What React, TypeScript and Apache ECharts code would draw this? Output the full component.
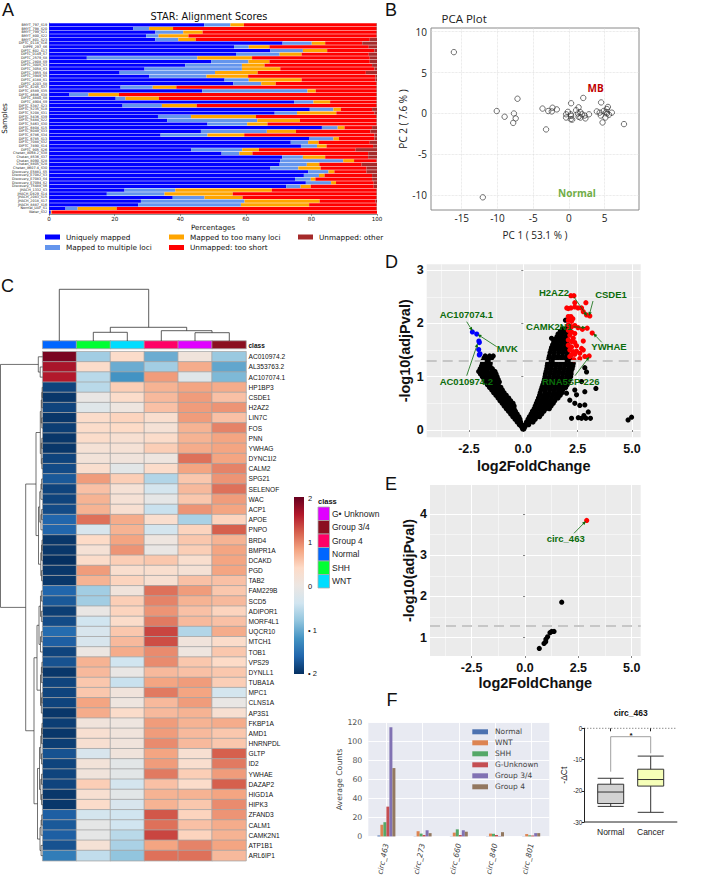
import React, { useEffect, useRef } from "react";
import * as echarts from "echarts";

const SANS = "'Liberation Sans', Arial, sans-serif";
const DEJA = "'DejaVu Sans', sans-serif";
const OPEN = "'Open Sans', sans-serif";

/* ---------- A: STAR alignment ---------- */
const sampleNames = ["BMYT_797_S19","BMYT_798_S20","BMYT_799_S21","BMYT_800_S22","BMYT_801_S23","DIPTC_0118_S16","DIPPE_297_S6","DIPTC_602_S17","DIPTC_0149_S7","DIPTC_2579_S8","DIPTC_2808_S9","DIPTC_3005_S3","DIPTC_3058_S3","DIPTC_3955_S4","DIPTC_3949_S5","DIPTC_4188_S1","DIPTC_4203_S8","DIPTC_4245_S37","DIPTC_4589_S35","DIPTC_4686_S38","DIPTC_4840_S8","DIPTC_4904_S9","DIPTC_5387_S23","DIPTC_5235_S18","DIPTC_5208_S31","DIPTC_5436_S39","DIPTC_5484_S22","DIPTC_5463_S30","DIPTC_6804_S15","DIPTC_6049_S33","DIPTC_6786_S34","DIPTC_6785_S13","DIPTC_7088_S32","DIPTC_7490_S14","DIPTC_905_S26","Chetan_8068-2_S38","Chetan_8536_S37","Chetan_8090_S28","Chetan_8805_S28","Chetan_8607-4_S30","Discovery_E5881_S5","Discovery_E7082_S3","Discovery_E7083_S4","Discovery_E7094_S2","Discovery_T5488_S6","JHACH_1332_S3","JHACH_D829_S14","JHACH_2083_S15","JHACH_2018_S17","JHACH_8887_S16","Normal_UAF_S1","Water_S32"];
const uniqueEnd = [47.3,25.7,32.4,29.6,32.4,71.2,56.4,67.5,57,11.5,49.4,41.5,29.1,21.5,30.5,53.5,56.2,21.8,46.7,6.2,20.3,74.7,22.4,79.5,68.8,33.2,36,48.3,83.2,46.3,34,79.4,73.7,76.8,43.3,52.6,71.1,70.5,70.3,67.5,79,77.7,75,78.3,72.3,23,17.6,37.7,28,27.2,5,0.5];
const multiEnd = [55.3,30.5,40.9,33.4,39.4,80.1,60.9,77.4,70.3,45.2,60.8,58.8,58.8,50.6,48,60.9,64.7,31.6,78.8,12,23.3,80.6,34.4,86.7,75.6,43.3,63.5,60.4,88,66.4,48.3,86.7,79,81.7,58.9,58,77.4,89.7,78.6,76,85.2,82.3,79.8,86,76.7,38.5,35.2,47.4,59.6,58.5,8.7,0.6];
const manyEnd = [59.4,37.8,46.8,42.5,44.7,84.2,67.2,84.8,77,61.9,67.2,65.7,70.5,63.6,60.7,77,69.1,38.8,81.3,21.3,33.5,85.7,45,89,87.6,63.1,76.5,66.6,90.1,75.3,59.5,88.4,82.2,84.6,64,62,84.2,93,82.4,82.8,87,84,81.2,87.5,79.8,67.9,56,59,82.5,79.3,20.6,0.8];
const shortEnd = [99.8,99.8,99.8,99.8,97.8,95.5,97.5,99.2,97.5,97.8,97.8,98.5,99.2,96.6,99.5,99.5,99.8,99.8,99.8,99.8,99.8,99.8,99.8,98.5,99.2,99.8,99.8,99.8,98.5,98,99.2,99.2,97.8,98.8,93.5,97.3,97.3,99.8,95.3,96.8,96.8,98.5,98.5,99,99,99.8,99.8,99.8,99.5,99.8,99.8,100];
const starNames = ["Uniquely mapped","Mapped to multiple loci","Mapped to too many loci","Unmapped: too short","Unmapped: other"];
const starColors = ["#0000ff","#6495ed","#ffa500","#ff0000","#a52a2a"];

/* ---------- B: PCA ---------- */
const pcaPoints = [[-16.1,7.5],[-12.05,-10.25],[-7.2,1.8],[-10.1,0.3],[-9,-0.4],[-7.7,0],[-7.45,-0.6],[-7.8,-1.15],[-3.7,0.6],[-2.9,0.3],[-2.3,0.7],[-2.4,0.25],[-1.7,0.5],[-3.2,-1.95],[0.3,1.25],[2,1.9],[4.5,1.35],[7.7,-1.3],[4.7,-1.1],[1.35,0.75],[-0.15,0.2],[-0.4,-0.1],[-0.4,-0.5],[0.25,-0.1],[0.3,-0.3],[0.25,-0.7],[0.45,-0.75],[1,0.4],[1.25,0],[1.6,0.15],[1.35,-0.4],[1.6,-0.5],[1.8,-0.1],[2.2,-0.25],[2.3,-0.6],[2.8,-0.1],[3.9,0.25],[4.3,0.1],[4.85,0.3],[4.45,-0.25],[5.1,-0.5],[5.3,0.55],[5.45,0.8],[5.3,0],[5.6,-0.15],[6,0.1],[5.2,0.15]];

/* ---------- C: heatmap ---------- */
const geneNames = ["AC010974.2","AL353763.2","AC107074.1","HP1BP3","CSDE1","H2AZ2","LIN7C","FOS","PNN","YWHAG","DYNC1I2","CALM2","SPG21","SELENOF","WAC","ACP1","APOE","PNPO","BRD4","BMPR1A","DCAKD","PGD","TAB2","FAM229B","SCD5","ADIPOR1","MORF4L1","UQCR10","MTCH1","TOB1","VPS29","DYNLL1","TUBA1A","MPC1","CLNS1A","AP3S1","FKBP1A","AMD1","HNRNPDL","GLTP","ID2","YWHAE","DAZAP2","HIGD1A","HIPK3","ZFAND3","CALM1","CAMK2N1","ATP1B1","ARL6IP1"];
const heatColumns = ["Normal","SHH","WNT","Group 4","G\u2022 Unknown","Group 3/4"];
const heatColumnColors = ["#0066ff","#00ff33","#00ddff","#ff0066","#e000ff","#8b1020"];
const heatRows = [
[1.9,-0.7,0.35,-1.0,0.1,-0.75],[1.65,0.35,-1.0,-0.7,0.75,-1.05],[1.6,-0.55,-1.2,0.85,-0.2,-0.9],[-1.85,-0.55,0.5,0.7,0.8,0.75],[-1.95,-0.05,0.35,0.65,0.85,0.6],[-1.85,-0.2,0.05,0.6,0.85,0.9],[-1.95,0.35,0.45,0.3,0.85,0.6],[-1.9,0.35,0.4,0.2,0.7,1.0],[-1.95,0.35,0.25,0.35,0.7,0.8],[-1.95,0.2,0.2,0.5,0.75,0.8],[-1.85,0.15,0.1,0.05,1.1,0.8],[-1.8,0.3,-0.15,0.35,0.8,1.0],
[-1.7,0.85,0.5,-0.6,0.55,0.9],[-1.85,0.6,0.2,-0.35,0.65,1.1],[-1.85,0.7,0.2,-0.1,0.55,0.85],[-1.8,0.7,0.25,-0.45,0.9,0.8],[-1.6,1.1,0.75,0.3,-0.65,0.45],[-1.6,-0.3,0.7,-0.35,0.45,1.2],[-1.95,0.4,0.8,0.05,0.55,0.7],[-1.95,0.2,0.9,-0.05,0.5,0.8],[-2,0.35,0.5,0.55,0.3,0.8],[-1.95,0.85,0.3,0.3,0.2,0.8],[-1.95,0.7,0.45,0.25,0.6,0.6],
[-1.6,-0.7,0.1,1.1,0.85,0.55],[-1.7,-0.7,0.5,1.0,0.7,0.65],[-1.9,-0.05,0.45,0.9,0.6,0.45],[-1.8,-0.4,0.35,1.05,0.65,0.6],[-1.55,-0.3,0.55,1.35,-0.6,0.75],[-1.65,-0.3,0.65,1.3,0.1,0.35],[-1.85,0,0.75,0.95,0.05,0.55],[-1.75,0.7,-0.4,0.95,0.55,0.4],[-1.95,0.65,-0.05,0.65,0.6,0.55],[-1.85,0.55,-0.45,0.8,0.85,0.5],[-1.85,0.55,0.1,1.05,0.8,-0.35],[-1.85,0.8,0.05,0.65,0.85,-0.05],[-1.95,0.75,0.35,0.65,0.7,0.25],
[-1.9,0.1,0.05,0.85,0.7,0.75],[-1.95,0.25,0.1,0.85,0.65,0.55],[-1.9,0.25,0.1,0.95,0.65,0.55],[-1.75,-0.3,0.1,0.8,0.25,1.2],[-1.85,0.15,-0.15,0.85,0.3,1.05],[-1.85,0.1,-0.15,1.05,0.5,0.85],[-1.85,0.5,-0.35,0.6,0.35,1.2],[-1.95,0.25,-0.15,0.7,0.7,0.8],[-1.95,0.35,-0.3,0.7,0.55,0.95],[-1.65,-0.35,-0.4,1.25,0.45,0.9],[-1.7,-0.1,-0.4,1.1,0.6,0.75],[-1.65,-0.1,-0.55,1.35,0.45,0.7],[-1.75,0.2,-0.65,0.8,1.0,0.8],[-1.4,-0.5,-0.8,1.1,1.1,0.65]];
const rdBu = ["#053061","#2166ac","#4393c3","#92c5de","#d1e5f0","#ece6e2","#fddbc7","#f4a582","#d6604d","#b2182b","#67001f"];
const classLegend = [["G\u2022 Unknown","#e000ff"],["Group 3/4","#8b1020"],["Group 4","#ff0066"],["Normal","#0066ff"],["SHH","#00ff33"],["WNT","#00ddff"]];

/* ---------- D: volcano, mRNA ---------- */
const volcanoRows: [number, number[]][] = [
[0.02,[-0.03,0.03]],[0.06,[-0.08,0.08]],[0.1,[-0.18,-0.06,0.1,0.25]],[0.15,[-0.28,-0.12,0.15,0.32,0.45]],[0.2,[-0.38,-0.25,-0.15,0.22,0.38,0.55]],[0.25,[-0.48,-0.33,-0.2,0.28,0.45,0.62,0.75]],[0.3,[-0.58,-0.42,-0.28,0.36,0.55,0.72,0.85]],[0.35,[-0.68,-0.52,-0.36,0.42,0.6,0.8,0.95]],[0.4,[-0.78,-0.6,-0.42,0.5,0.7,0.9,1.05,1.2]],[0.45,[-0.88,-0.7,-0.55,-0.42,0.55,0.75,0.95,1.12,1.28]],[0.5,[-0.97,-0.8,-0.63,-0.47,0.6,0.8,1,1.2,1.38]],[0.55,[-1.07,-0.9,-0.75,-0.58,0.65,0.85,1.05,1.25,1.45]],[0.6,[-1.16,-1,-0.85,-0.67,0.7,0.9,1.1,1.3,1.5,1.6]],[0.65,[-1.26,-1.1,-0.95,-0.78,0.75,0.95,1.15,1.35,1.55,1.7]],[0.7,[-1.36,-1.2,-1.05,-0.88,0.78,1,1.2,1.4,1.6,1.78]],[0.75,[-1.45,-1.3,-1.13,-0.96,0.82,1.02,1.22,1.42,1.62,1.82]],[0.8,[-1.55,-1.38,-1.22,-1.03,0.86,1.05,1.25,1.45,1.65,1.85,1.95]],[0.85,[-1.65,-1.48,-1.32,-1.15,0.9,1.1,1.3,1.5,1.7,1.9,2.02]],[0.9,[-1.75,-1.58,-1.42,-1.25,-1.1,0.94,1.15,1.35,1.55,1.75,1.95,2.08]],[0.95,[-1.8,-1.64,-1.47,-1.3,-1.15,0.97,1.17,1.37,1.57,1.77,1.97,2.13]],[1.0,[-1.88,-1.7,-1.52,-1.35,-1.2,1,1.2,1.4,1.6,1.8,2,2.18]],[1.05,[-1.97,-1.78,-1.6,-1.42,-1.25,1.02,1.22,1.42,1.62,1.82,2.02,2.2]],[1.1,[-2.05,-1.85,-1.65,-1.45,-1.3,1.05,1.25,1.45,1.65,1.85,2.05,2.2]],[1.15,[-1.98,-1.8,-1.62,-1.42,1.08,1.28,1.48,1.68,1.88,2.08,2.25]],[1.2,[-1.92,-1.72,-1.53,1.1,1.3,1.5,1.7,1.9,2.1,2.28]],[1.25,[-1.88,-1.7,-1.52,1.12,1.32,1.52,1.72,1.92,2.12,2.3]],[1.3,[-1.85,-1.65,-1.5,1.15,1.35,1.55,1.75,1.95,2.15,2.3]],[1.35,[-1.8,-1.6,-1.45,1.18,1.38,1.58,1.78,1.98,2.15]],[1.39,[-1.75,-1.55,-1.38,1.2,1.4,1.6,1.8,2,2.1]],[1.45,[1.23,1.43,1.63,1.83,2.03]],[1.5,[1.27,1.45,1.65,1.85,2.03]],[1.55,[1.3,1.5,1.7,1.9,2.05]],[1.6,[1.35,1.55,1.75,1.95,2.05]],[1.65,[1.4,1.6,1.8,2]],[1.7,[1.45,1.65,1.85,2.03]],[1.75,[1.55,1.75,1.95]],[1.8,[1.6,1.8,2]],[1.85,[1.7,1.9,2.02]],[1.9,[1.8,1.95,2.02]]];
const volcanoSparse = [[2.22,0.22],[2.53,0.23],[2.68,0.22],[2.79,0.27],[2.88,0.22],[2.99,0.34],[3.09,0.22],[2.83,0.47],[2.6,0.46],[2.37,0.5],[2.14,0.56],[2.45,0.66],[2.83,0.72],[3.34,0.78],[2.68,0.91],[2.91,1.09],[2.83,1.17],[2.37,0.75],[1.99,0.69],[4.82,0.19],[4.98,0.24],[1.3,1.72],[1.94,2.06]];
const volcanoUp = [[2.19,2.52],[2.33,2.52],[2.37,2.39],[2,2.29],[2.07,2.28],[2.19,2.29],[2.37,2.31],[2.52,2.29],[2.68,2.29],[2.88,2.39],[2.76,2.22],[2.91,2.16],[3.06,2.14],[2.07,2.13],[2.19,2.13],[2.28,2.09],[2.07,2.06],[2.22,2.04],[2.94,1.91],[3.17,1.82],[2.07,1.97],[2.22,1.94],[2.37,1.96],[2.52,1.92],[2.72,1.89],[2.07,1.87],[2.22,1.84],[2.37,1.81],[2.14,1.78],[2.3,1.72],[2.07,1.69],[2.22,1.66],[2.37,1.64],[2.76,1.67],[2.07,1.59],[2.22,1.56],[2.45,1.58],[2.68,1.53],[2.14,1.5],[2.3,1.47],[2.45,1.48],[2.76,1.5],[2.22,1.41],[2.37,1.42],[2.6,1.44],[3.03,1.39],[2.33,1.32],[2.6,1.34],[2.83,1.38],[2.14,1.38]];
const volcanoDown = [[-2.34,1.84],[-2.14,1.8],[-2.04,1.67],[-2.02,1.64],[-2.05,1.51],[-2.02,1.41],[-1.99,1.43]];
const threshold = 1.3;

/* ---------- E: volcano, circRNA ---------- */
const circBlack = [[1.72,1.86],[1.36,1.15],[1.25,1.15],[1.17,1.12],[1.06,1.02],[0.98,0.96],[0.97,0.9],[0.89,0.86],[0.67,0.74]];
const circRed = [[2.89,3.84]];

/* ---------- F: bars and box ---------- */
const circNames = ["circ_463","circ_273","circ_660","circ_840","circ_801"];
const groupNames = ["Normal","WNT","SHH","G-Unknown","Group 3/4","Group 4"];
const groupColors = ["#4c72b0","#dd8452","#55a868","#c44e52","#8172b3","#937860"];
const normalCounts = [1,0.2,0.2,0.2,0.2];
const wntCounts = [12.3,5.5,4,3,2.5];
const shhCounts = [15,3,7.5,2.8,1.2];
const gUnknownCounts = [31.4,1.5,1.5,1.5,1];
const group34Counts = [115,6.5,6.5,0.5,3.5];
const group4Counts = [72,3.5,5,4.5,3.5];
const boxNames = ["Normal","Cancer"];
const normalBox = [-25,-24.1,-20.4,-17.9,-16];
const cancerBox = [-26.9,-18.5,-16.4,-13.1,-8.9];

/* ---------- drawing helpers ---------- */
const txt = (x: number, y: number, text: string, o: any = {}) => ({
  type: "text", x, y, z: 100, rotation: o.rotation || 0, silent: true,
  style: {
    text, fontSize: o.size || 8, fontFamily: o.family || SANS, fontWeight: o.weight || "normal",
    fontStyle: o.style || "normal", fill: o.fill || "#111",
    align: o.align || "left", verticalAlign: o.va || "middle",
  },
});
const poly = (points: number[][], stroke = "#333", lineWidth = 0.8, extra: any = {}) => ({
  type: "polyline", silent: true, z: 100, shape: { points }, style: { stroke, lineWidth, fill: "none", ...extra },
});
const arrow = (x1: number, y1: number, x2: number, y2: number) => {
  const a = Math.atan2(y2 - y1, x2 - x1), L = 4, W = 1.7;
  const bx = x2 - L * Math.cos(a), by = y2 - L * Math.sin(a);
  return [
    { type: "line", silent: true, z: 100, shape: { x1, y1, x2: bx, y2: by }, style: { stroke: "#0b6b0b", lineWidth: 0.8 } },
    { type: "polygon", silent: true, z: 100, shape: { points: [[x2, y2], [bx - W * Math.sin(a), by + W * Math.cos(a)], [bx + W * Math.sin(a), by - W * Math.cos(a)]] }, style: { fill: "#0b6b0b" } },
  ];
};

const HT = 351.7, HH = 509, HL = 42.7, HW = 203.3;
const rowY = (i: number) => HT + (HH / geneNames.length) * (i + 0.5);
const dendroLines: any[] = [];
// A dendrogram node: x of the join, and two children (row index or node).
type N = number | [number, N, N];
const nodeY = (n: N): number => (typeof n === "number" ? rowY(n) : (nodeY(n[1]) + nodeY(n[2])) / 2);
const nodeX = (n: N): number => (typeof n === "number" ? HL : n[0]);
const drawNode = (n: N) => {
  if (typeof n === "number") return;
  const [x, a, b] = n;
  dendroLines.push(poly([[nodeX(a), nodeY(a)], [x, nodeY(a)], [x, nodeY(b)], [nodeX(b), nodeY(b)]], "#333", 0.7));
  drawNode(a); drawNode(b);
};
const span = (a: number, b: number, x: number): N => {
  if (a === b) return a;
  const m = Math.floor((a + b) / 2);
  const nx = x + (HL - x) * 0.4;
  return [x, span(a, m, nx), span(m + 1, b, nx)];
};
const leftTree: N = [0.5,
  [38.3, 0, [40.2, 1, 2]],
  [25.7,
    [36, span(3, 11, 40.3), [38.5, span(12, 17, 39.8), span(18, 22, 40.8)]],
    [34, [37, span(23, 29, 39), span(30, 35, 40.5)], [37.5, span(36, 44, 39.5), span(45, 49, 40)]],
  ],
];
drawNode(leftTree);
const TB = 341;
const topDendro = [
  [[59.3, TB], [59.3, 289.3], [148.7, 289.3], [148.7, 327.3]],
  [[110.3, 332.3], [110.3, 327.3], [186.7, 327.3], [186.7, 330.7]],
  [[93.3, TB], [93.3, 332.3], [127.3, 332.3], [127.3, TB]],
  [[161.3, TB], [161.3, 330.7], [212, 330.7], [212, 332.7]],
  [[195, TB], [195, 332.7], [229.3, 332.7], [229.3, TB]],
];

const ggText = { fontFamily: SANS, fontWeight: "bold" as const, color: "#111" };
const ggAxis = (gridIndex: number, min: number, max: number, ticks: number[], isX: boolean, nameText: string, nameGap: number) => ({
  type: "value", gridIndex, min, max,
  name: nameText, nameLocation: "middle", nameGap,
  nameTextStyle: { ...ggText, fontSize: 14.5 },
  axisLine: { show: false },
  axisTick: { show: true, length: 2, customValues: ticks, lineStyle: { color: "#333", width: 0.6 } },
  axisLabel: { customValues: ticks, ...ggText, fontSize: 12.5, margin: isX ? 5 : 3, formatter: isX ? (v: number) => v.toFixed(1) : (v: number) => String(v) },
  splitLine: { show: true, lineStyle: { color: "#fff", width: 1.1 } },
  minorSplitLine: { show: false },
});
const ggMinor = (xAxisIndex: number, yAxisIndex: number, xs: number[], ys: number[]) => ({
  type: "scatter", xAxisIndex, yAxisIndex, data: [], z: 0, silent: true,
  markLine: { silent: true, symbol: "none", z: 1, animation: false, label: { show: false },
    lineStyle: { color: "#fff", width: 0.5, type: "solid" },
    data: [...xs.map((v) => ({ xAxis: v })), ...ys.map((v) => ({ yAxis: v }))] },
});
const threshLine = { silent: true, symbol: "none", z: 5, animation: false, label: { show: false },
  lineStyle: { color: "#c6c6c6", width: 1.8, type: [10, 6] }, data: [{ yAxis: threshold }] };
const dots = (xAxisIndex: number, yAxisIndex: number, data: number[][], color: string, extra: any = {}) => ({
  type: "scatter", xAxisIndex, yAxisIndex, data, symbolSize: 5.2, itemStyle: { color, opacity: 1 }, silent: true, ...extra,
});

const letters = [["A", 2, 10], ["B", 385, 9.5], ["C", 1, 285.7], ["D", 385, 262], ["E", 385, 484.3], ["F", 386.5, 700]];

export default function App() {
  const ref = useRef<HTMLDivElement>(null);
  useEffect(() => {
    const chart = echarts.init(ref.current!, undefined, { renderer: "svg" });
    const volcanoBlack = [...volcanoRows.flatMap(([y, xs]) => xs.map((x) => [x, y])), ...volcanoSparse];
    const diff = (hi: number[], lo: number[]) => hi.map((v, i) => +(v - lo[i]).toFixed(2));
    const starSeries = [uniqueEnd, diff(multiEnd, uniqueEnd), diff(manyEnd, multiEnd), diff(shortEnd, manyEnd), shortEnd.map((v) => +(100 - v).toFixed(2))];
    const countSeries = [normalCounts, wntCounts, shhCounts, gUnknownCounts, group34Counts, group4Counts];
    const heatData = heatRows.flatMap((r, y) => r.map((v, x) => [x, y, v]));

    const graphics: any[] = [
      ...letters.map(([t, x, y]) => txt(x as number, y as number, t as string, { size: 18, family: SANS, fill: "#111" })),
      txt(209, 16.5, "STAR: Alignment Scores", { size: 9.8, family: DEJA, align: "center" }),
      // B
      txt(441.5, 18, "PCA Plot", { size: 11.5, family: OPEN, fill: "#222" }),
      txt(595.7, 88, "MB", { size: 10, weight: "bold", family: OPEN, fill: "#c00000", align: "center" }),
      txt(577, 192.7, "Normal", { size: 10, weight: "bold", family: OPEN, fill: "#70ad47", align: "center" }),
      // C
      ...dendroLines,
      ...topDendro.map((p) => poly(p, "#333", 0.8)),
      txt(248.5, 345, "class", { size: 6.5, weight: "bold" }),
      { type: "rect", silent: true, shape: { x: 294, y: 497, width: 10, height: 177 },
        style: { fill: new echarts.graphic.LinearGradient(0, 0, 0, 1, rdBu.slice().reverse().map((c, i) => ({ offset: i / 10, color: c }))) } },
      txt(308, 498.5, "2", { size: 7.5 }), txt(308, 542, "1", { size: 7.5 }), txt(308, 586, "0", { size: 7.5 }),
      txt(308, 630, "\u2022 1", { size: 7.5 }), txt(308, 673, "\u2022 2", { size: 7.5 }),
      txt(318, 501, "class", { size: 7.5, weight: "bold" }),
      ...classLegend.flatMap(([name, color], i) => [
        { type: "rect", silent: true, shape: { x: 318, y: 507 + 13.5 * i, width: 11.5, height: 13.5 }, style: { fill: color, stroke: "#aaa", lineWidth: 0.8 } },
        txt(332, 513.7 + 13.5 * i, name, { size: 8.5, fill: "#222" }),
      ]),
      // D labels and arrows
      txt(554, 292.7, "H2AZ2", { size: 9.5, weight: "bold", fill: "#0b6b0b", align: "center" }),
      txt(611, 294.7, "CSDE1", { size: 9.5, weight: "bold", fill: "#0b6b0b", align: "center" }),
      txt(466.3, 314.7, "AC107074.1", { size: 9.5, weight: "bold", fill: "#0b6b0b", align: "center" }),
      txt(549, 326.3, "CAMK2N1", { size: 9.5, weight: "bold", fill: "#0b6b0b", align: "center" }),
      txt(609, 346.7, "YWHAE", { size: 9.5, weight: "bold", fill: "#0b6b0b", align: "center" }),
      txt(507.3, 348.3, "MVK", { size: 9.5, weight: "bold", fill: "#0b6b0b", align: "center" }),
      txt(466.3, 381.7, "AC010974.2", { size: 9.5, weight: "bold", fill: "#0b6b0b", align: "center" }),
      txt(570.7, 381.7, "RNA5SP-226", { size: 9.5, weight: "bold", fill: "#0b6b0b", align: "center" }),
      ...arrow(574, 297, 587, 316), ...arrow(593, 301, 589, 316), ...arrow(466.7, 321.7, 472.5, 331),
      ...arrow(496.7, 346.7, 477.5, 334.3), ...arrow(466.7, 375.7, 477.7, 343.3), ...arrow(573.5, 326.7, 586, 327.7),
      ...arrow(601.7, 342.3, 593.3, 333.3), ...arrow(575, 375.7, 589.3, 356.7),
      // E
      txt(565.7, 538.7, "circ_463", { size: 9.5, weight: "bold", fill: "#0b6b0b", align: "center" }),
      ...arrow(574, 533.3, 586, 521),
      // box plot furniture
      txt(630.7, 713, "circ_463", { size: 8.5, weight: "bold", align: "center" }),
      { type: "line", silent: true, shape: { x1: 584.3, y1: 822, x2: 677.3, y2: 822 }, style: { stroke: "#222", lineWidth: 1 } },
      { type: "line", silent: true, shape: { x1: 584.3, y1: 728.3, x2: 677.3, y2: 728.3 }, style: { stroke: "#333", lineWidth: 0.8, lineDash: [1, 2] } },
      poly([[610.7, 771.7], [610.7, 736.7], [650.7, 736.7], [650.7, 753.3]], "#888", 0.8),
      txt(631, 735.5, "*", { size: 8, weight: "bold", align: "center" }),
    ];

    chart.setOption({
      animation: false,
      backgroundColor: "#fff",
      textStyle: { fontFamily: SANS },
      grid: [
        { left: 42, top: 23, width: 335, height: 191 },
        { left: 431, top: 28, width: 208, height: 182, show: true, borderColor: "#8a8a8a", borderWidth: 1, backgroundColor: "#fff" },
        { left: HL, top: HT, width: HW, height: HH },
        { left: HL, top: 341, width: HW, height: 7.5 },
        { left: 426.7, top: 264.3, width: 214, height: 173, show: true, borderWidth: 0, backgroundColor: "#ebebeb" },
        { left: 430, top: 485, width: 210.7, height: 171, show: true, borderWidth: 0, backgroundColor: "#ebebeb" },
        { left: 368.3, top: 722.5, width: 181, height: 117.5, show: true, borderWidth: 0, backgroundColor: "#e8eaf2" },
        { left: 590.7, top: 728.3, width: 80, height: 93.7 },
      ],
      xAxis: [
        { type: "value", gridIndex: 0, min: 0, max: 100, interval: 20, name: "Percentages", nameLocation: "middle", nameGap: 10,
          nameTextStyle: { fontFamily: DEJA, fontSize: 7.2, color: "#111" },
          axisLine: { show: true, lineStyle: { color: "#444", width: 0.6 } }, axisTick: { show: true, length: 2, lineStyle: { color: "#444", width: 0.5 } },
          axisLabel: { fontFamily: DEJA, fontSize: 5.6, color: "#111", margin: 2 }, splitLine: { show: false } },
        { type: "value", gridIndex: 1, min: -19.3, max: 9.8, name: "PC 1 ( 53.1 % )", nameLocation: "middle", nameGap: 20,
          nameTextStyle: { fontFamily: OPEN, fontSize: 10, color: "#222" },
          axisLine: { show: false }, axisTick: { show: false, customValues: [-15, -10, -5, 0, 5] },
          axisLabel: { customValues: [-15, -10, -5, 0, 5], fontFamily: OPEN, fontSize: 10, color: "#222", margin: 3 },
          splitLine: { show: true, lineStyle: { color: "#d8d8d8", width: 0.7, type: "dotted" } } },
        { type: "category", gridIndex: 2, data: heatColumns, axisLine: { show: false }, axisTick: { show: false }, axisLabel: { show: false }, splitLine: { show: false } },
        { type: "category", gridIndex: 3, data: heatColumns, axisLine: { show: false }, axisTick: { show: false }, axisLabel: { show: false }, splitLine: { show: false } },
        ggAxis(4, -4.44, 5.4, [-2.5, 0, 2.5, 5], true, "log2FoldChange", 21),
        ggAxis(5, -4.45, 5.42, [-2.5, 0, 2.5, 5], true, "log2FoldChange", 19),
        { type: "category", gridIndex: 6, data: circNames, axisLine: { show: false }, axisTick: { show: false },
          axisLabel: { rotate: 78, fontFamily: DEJA, fontStyle: "italic", fontSize: 7.5, color: "#444", margin: 7 },
          splitLine: { show: true, alignWithLabel: true, lineStyle: { color: "#fff", width: 0.9 } } },
        { type: "category", gridIndex: 7, data: boxNames, axisLine: { show: false }, axisTick: { show: true, length: 3, alignWithLabel: true, lineStyle: { color: "#222", width: 1 } },
          axisLabel: { fontFamily: SANS, fontSize: 8.5, color: "#222", margin: 5 }, splitLine: { show: false } },
      ],
      yAxis: [
        { type: "category", gridIndex: 0, inverse: true, data: sampleNames, name: "Samples", nameLocation: "middle", nameGap: 35,
          nameTextStyle: { fontFamily: DEJA, fontSize: 7.2, color: "#111" },
          axisLine: { show: true, lineStyle: { color: "#444", width: 0.5 } }, axisTick: { show: false },
          axisLabel: { interval: 0, fontFamily: DEJA, fontSize: 3.4, color: "#222", margin: 2 } },
        { type: "value", gridIndex: 1, min: -11.8, max: 10.45, name: "PC 2 ( 7.6 % )", nameLocation: "middle", nameGap: 23,
          nameTextStyle: { fontFamily: OPEN, fontSize: 10, color: "#222" },
          axisLine: { show: false }, axisTick: { show: false, customValues: [-10, -5, 0, 5, 10] },
          axisLabel: { customValues: [-10, -5, 0, 5, 10], fontFamily: OPEN, fontSize: 10, color: "#222", margin: 4 },
          splitLine: { show: true, lineStyle: { color: "#d8d8d8", width: 0.7, type: "dotted" } } },
        { type: "category", gridIndex: 2, inverse: true, position: "right", data: geneNames, axisLine: { show: false }, axisTick: { show: false },
          axisLabel: { interval: 0, fontFamily: SANS, fontSize: 6.6, color: "#111", margin: 2.5 }, splitLine: { show: false } },
        { type: "category", gridIndex: 3, data: ["class"], axisLine: { show: false }, axisTick: { show: false }, axisLabel: { show: false }, splitLine: { show: false } },
        ggAxis(4, -0.137, 3.11, [0, 1, 2, 3], false, "-log10(adjPval)", 14.5),
        ggAxis(5, 0.556, 4.7, [1, 2, 3, 4], false, "-log10(adjPval)", 13),
        { type: "value", gridIndex: 6, min: 0, max: 120, interval: 20, name: "Average Counts", nameLocation: "middle", nameGap: 24,
          nameTextStyle: { fontFamily: DEJA, fontSize: 7.8, color: "#444" },
          axisLine: { show: false }, axisTick: { show: false },
          axisLabel: { fontFamily: DEJA, fontSize: 7.8, color: "#555", margin: 6 },
          splitLine: { show: true, lineStyle: { color: "#fff", width: 0.9 } } },
        { type: "value", gridIndex: 7, min: -30, max: 0, interval: 10, offset: 6.4, name: "-\u0394Ct", nameLocation: "middle", nameGap: 16,
          nameTextStyle: { fontFamily: SANS, fontSize: 8.5, color: "#222" },
          axisLine: { show: true, lineStyle: { color: "#222", width: 1 } }, axisTick: { show: true, length: 2.5, lineStyle: { color: "#222", width: 1 } },
          axisLabel: { fontFamily: SANS, fontSize: 6.3, color: "#222", margin: 2 }, splitLine: { show: false } },
      ],
      legend: [
        { left: 45, top: 233.5, orient: "vertical", itemWidth: 15, itemHeight: 5, itemGap: 3.5, padding: 0, icon: "rect", selectedMode: false, data: starNames.slice(0, 2), textStyle: { fontFamily: DEJA, fontSize: 7.3, color: "#111", padding: [0, 0, 0, 1] } },
        { left: 169, top: 233.5, orient: "vertical", itemWidth: 15, itemHeight: 5, itemGap: 3.5, padding: 0, icon: "rect", selectedMode: false, data: starNames.slice(2, 4), textStyle: { fontFamily: DEJA, fontSize: 7.3, color: "#111", padding: [0, 0, 0, 1] } },
        { left: 298, top: 233.5, orient: "vertical", itemWidth: 15, itemHeight: 5, itemGap: 3.5, padding: 0, icon: "rect", selectedMode: false, data: starNames.slice(4), textStyle: { fontFamily: DEJA, fontSize: 7.3, color: "#111", padding: [0, 0, 0, 1] } },
        { left: 472.3, top: 727.8, orient: "vertical", itemWidth: 15.7, itemHeight: 5, itemGap: 3, padding: 0, icon: "rect", selectedMode: false, data: groupNames, textStyle: { fontFamily: DEJA, fontSize: 7.5, color: "#444", padding: [0, 0, 0, 2] } },
      ],
      visualMap: [
        { show: false, type: "continuous", seriesIndex: 6, min: -2, max: 2, dimension: 2, inRange: { color: rdBu } },
        { show: false, type: "piecewise", seriesIndex: 7, dimension: 2, pieces: heatColumnColors.map((color, i) => ({ value: i, color })) },
      ],
      series: [
        ...starSeries.map((data, i) => ({
          type: "bar", name: starNames[i], xAxisIndex: 0, yAxisIndex: 0, stack: "star", data, barCategoryGap: "14%",
          itemStyle: { color: starColors[i] }, silent: true,
        })),
        { type: "scatter", xAxisIndex: 1, yAxisIndex: 1, data: pcaPoints, symbolSize: 5.4, silent: true,
          itemStyle: { color: "rgba(255,255,255,0)", borderColor: "#333", borderWidth: 0.7, opacity: 1 } },
        { type: "heatmap", xAxisIndex: 2, yAxisIndex: 2, data: heatData, silent: true, progressive: 0,
          itemStyle: { borderColor: "#a6a6a6", borderWidth: 0.8 } },
        { type: "heatmap", xAxisIndex: 3, yAxisIndex: 3, data: heatColumns.map((_, i) => [i, 0, i]), silent: true, progressive: 0,
          itemStyle: { borderColor: "#a6a6a6", borderWidth: 0.8 } },
        ggMinor(4, 4, [-3.75, -1.25, 1.25, 3.75], [0.5, 1.5, 2.5]),
        dots(4, 4, volcanoBlack, "#000", { markLine: threshLine }),
        dots(4, 4, volcanoUp, "#ff0000"),
        dots(4, 4, volcanoDown, "#0000ff"),
        ggMinor(5, 5, [-3.75, -1.25, 1.25, 3.75], [1.5, 2.5, 3.5]),
        dots(5, 5, circBlack, "#000", { markLine: threshLine }),
        dots(5, 5, circRed, "#ff0000"),
        ...countSeries.map((data, i) => ({
          type: "bar", name: groupNames[i], xAxisIndex: 6, yAxisIndex: 6, data, barWidth: 3, barGap: "0%",
          itemStyle: { color: groupColors[i] }, silent: true,
        })),
        { type: "boxplot", xAxisIndex: 7, yAxisIndex: 7, boxWidth: [26, 26], silent: true,
          itemStyle: { borderColor: "#333", borderWidth: 1 },
          data: [
            { value: normalBox, itemStyle: { color: "#d2d2d2", borderColor: "#333", borderWidth: 1 } },
            { value: cancerBox, itemStyle: { color: "#f6ffb8", borderColor: "#333", borderWidth: 1 } },
          ] },
      ],
      graphic: { elements: graphics },
    });
    return () => chart.dispose();
  }, []);
  return <div ref={ref} style={{ position: "absolute", left: 0, top: 0, width: 709, height: 878 }} />;
}
